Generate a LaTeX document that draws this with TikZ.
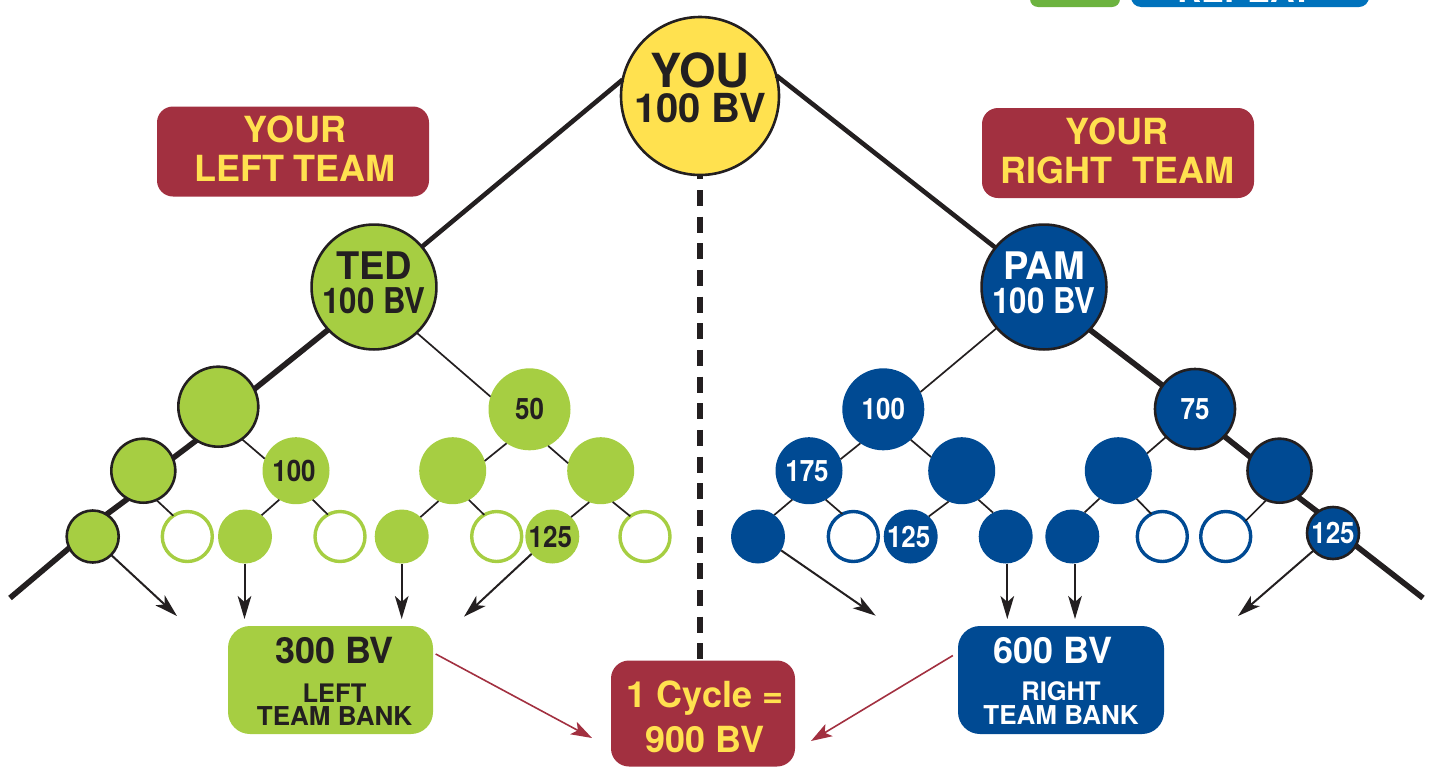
\documentclass[tikz,border=0pt]{standalone}
\usepackage{fontspec}
\setmainfont{TeX Gyre Heros}
\newfontfamily\hbfam{TeX Gyre Heros}
\newfontfamily\hbcfam[FakeStretch=0.88]{TeX Gyre Heros}
\newcommand{\hb}{\hbfam\bfseries}
\newcommand{\hbc}{\hbcfam\bfseries}
\usetikzlibrary{arrows.meta}
\definecolor{ygold}{HTML}{FFE14F}
\definecolor{lime}{HTML}{A6CE42}
\definecolor{navy}{HTML}{004A93}
\definecolor{wine}{HTML}{A23040}
\definecolor{ink}{HTML}{231F20}
\definecolor{topgreen}{HTML}{6CB33F}
\definecolor{topblue}{HTML}{0072BC}
% font size given in reference pixels (1px = 0.5pt)
\newcommand{\pxf}[1]{\fontsize{\dimexpr#1pt/2\relax}{\dimexpr#1pt*6/10\relax}\selectfont}
% rows with an exact baseline distance; #2 lifts the text inside its node
\newcommand{\rows}[3]{\vbox{\baselineskip=#1\lineskip=0pt\lineskiplimit=-100pt
  \halign{\hfil##\hfil\cr#3\crcr}\kern#2}}
\tikzset{
  ball/.style={circle,inner sep=0pt,outer sep=0pt,minimum size=#1*1pt},
  rimmed/.style={draw=ink,line width=1.3pt},
  limeball/.style={ball=#1,fill=lime,text=ink},
  navyball/.style={ball=#1,fill=navy,text=white},
  limering/.style={ball=#1,fill=white,draw=lime,line width=1.7pt},
  navyring/.style={ball=#1,fill=white,draw=navy,line width=1.7pt},
  numlabel/.style={font=\hbc\pxf{29.5}},
  banner/.style={rectangle,rounded corners=8pt,fill=wine,text=ygold,inner sep=0pt,outer sep=0pt},
  bank/.style={rectangle,rounded corners=11pt,inner sep=0pt,outer sep=0pt},
  spine/.style={draw=ink,line width=2.8pt},
  upspine/.style={draw=ink,line width=2.3pt},
  twig/.style={draw=ink,line width=0.85pt},
  drop/.style={draw=ink,line width=1pt,-{Stealth[length=11.5pt,width=6.8pt,inset=3pt]}},
  wineflow/.style={draw=wine,line width=0.8pt,-{Stealth[length=10.5pt,width=7pt,inset=2.5pt]}},
}
\begin{document}
\begin{tikzpicture}[x=0.5pt,y=-0.5pt]
\useasboundingbox (0,0) rectangle (1430,766);

% cropped buttons at the top edge
\begin{scope}
\clip (0,0) rectangle (1430,766);
\node[rectangle,rounded corners=4pt,fill=topgreen,minimum width=45pt,minimum height=20pt,inner sep=0,outer sep=0] (go) at (1075,-13) {};
\node[rectangle,rounded corners=5pt,fill=topblue,minimum width=119pt,minimum height=20pt,inner sep=0,outer sep=0,text=white] (repeatbtn) at (1250,-13) {};
\node[anchor=base,text=white,font=\hb\pxf{34},inner sep=0] (repeattxt) at (1245,2) {REPEAT};
\end{scope}

% top node and its children
\node[ball=79,fill=ygold,rimmed,text=ink] (you) at (700,96)
  {\rows{17.5pt}{8.5pt}{\hb\pxf{47}YOU\cr\hb\pxf{40}100 BV\cr}};
\node[limeball=62,rimmed] (ted) at (374,287)
  {\rows{17pt}{4.5pt}{\hb\pxf{38}TED\cr\hbc\pxf{35.5}100 BV\cr}};
\node[navyball=62,rimmed] (pam) at (1044,287)
  {\rows{17pt}{4.5pt}{\hb\pxf{38}PAM\cr\hbc\pxf{35.5}100 BV\cr}};

% left team
\node[limeball=40,rimmed] (la) at (218.3,406.7) {};
\node[limeball=41,numlabel] (lb) at (529.5,409.3) {50};
\node[limeball=32,rimmed] (lc) at (143.3,470.7) {};
\node[limeball=33.5,numlabel] (ld) at (296,470.7) {100\kern2pt};
\node[limeball=33.5] (le) at (452.7,470.7) {};
\node[limeball=33.5] (lf) at (600.7,470.7) {};
\node[limeball=26,rimmed] (lg) at (92.7,536.5) {};
\node[limering=25] (lh) at (187.3,536.5) {};
\node[limeball=27] (li) at (245,536.5) {};
\node[limering=25] (lj) at (340,536.5) {};
\node[limeball=27] (lk) at (401.7,536.5) {};
\node[limering=25] (ll) at (496.7,536.5) {};
\node[limeball=27,numlabel] (lm) at (552.3,536.5) {125\kern2pt};
\node[limering=25] (ln) at (645,536.5) {};

% right team
\node[navyball=41,numlabel] (ra) at (883.3,409.3) {100};
\node[navyball=40,rimmed,numlabel] (rb) at (1195,409) {75};
\node[navyball=33.5,numlabel] (rc) at (809,470.7) {175\kern2pt};
\node[navyball=33.5] (rd) at (961.7,470.7) {};
\node[navyball=33.5] (re) at (1118.3,470.7) {};
\node[navyball=32,rimmed] (rf) at (1279.5,470.7) {};
\node[navyball=27] (rg) at (758,536.5) {};
\node[navyring=25] (rh) at (853.3,536.5) {};
\node[navyball=27,numlabel] (ri) at (910.7,536.5) {125\kern2pt};
\node[navyball=27] (rj) at (1005.7,536.5) {};
\node[navyball=27] (rk) at (1072.3,536.5) {};
\node[navyring=25] (rl) at (1162.3,536.5) {};
\node[navyring=25] (rm) at (1225.7,536.5) {};
\node[navyball=26,rimmed,numlabel] (rn) at (1333,533) {125};

% banners
\node[banner,minimum width=136pt,minimum height=45pt] (leftteam) at (293,151.5)
  {\kern2pt\rows{19.5pt}{3pt}{\hb\pxf{36}YOUR\cr\hb\pxf{36}LEFT TEAM\cr}};
\node[banner,minimum width=136pt,minimum height=45pt] (rightteam) at (1118,153)
  {\rows{19.5pt}{1.8pt}{\hb\pxf{36}YOUR\kern1pt\cr\hb\pxf{36}RIGHT\ \ TEAM\kern1pt\cr}};
\node[bank,fill=lime,text=ink,minimum width=102.5pt,minimum height=54pt] (leftbank) at (330.5,680)
  {\kern4pt\rows{11.5pt}{-1.5pt}{\hb\pxf{36}300 BV\cr\noalign{\kern 8pt}\hb\pxf{25.5}LEFT\cr\hb\pxf{26}TEAM BANK\cr}};
\node[bank,fill=navy,text=white,minimum width=103pt,minimum height=54pt] (rightbank) at (1061,680)
  {\rows{12pt}{-1pt}{\hb\pxf{36}600 BV\kern 8pt\cr\noalign{\kern 6.5pt}\hb\pxf{25.5}RIGHT\cr\hb\pxf{26}TEAM BANK\cr}};
\node[banner,rounded corners=9pt,minimum width=92pt,minimum height=53pt] (cycle) at (703,713.5)
  {\kern2pt\rows{22.5pt}{-3pt}{\hb\pxf{36}1 Cycle =\cr\hb\pxf{36}900 BV\cr}};

% free ends
\coordinate (lfree) at (10,598);
\coordinate (rfree) at (1423,598);
\coordinate (lgtip) at (177,616);
\coordinate (litip) at (244.5,619);
\coordinate (lktip) at (401.7,619);
\coordinate (lmtip) at (464,616.7);
\coordinate (rgtip) at (875.7,615.7);
\coordinate (rjtip) at (1007.3,619);
\coordinate (rktip) at (1075,619);
\coordinate (rntip) at (1238,616);
\coordinate (redl) at (592,738);
\coordinate (redr) at (811,741);

% main spines
\draw[upspine] (you.168) -- (ted.40);
\draw[upspine] (you.15) -- (pam.141);
\draw[spine] (ted.223) -- (la.26);
\draw[spine] (la.237) -- (lc.23);
\draw[spine] (lc.241) -- (lg.58);
\draw[spine] (lg.206) -- (lfree);
\draw[spine] (pam.317) -- (rb.144);
\draw[spine] (rb.317) -- (rf.155);
\draw[spine] (rf.305) -- (rn.126);
\draw[spine] (rn.331) -- (rfree);

% thin branches
\foreach \p/\c in {ted.313/lb.162,la.306/ld.159,lc.294/lh.124,ld.240/li.52,ld.300/lj.119,
                   lb.236/le.17,lb.297/lf.167,le.245/lk.46,le.299/ll.120,lf.250/lm.46,lf.291/ln.126,
                   pam.221.5/ra.25,ra.236/rc.20,ra.312/rd.156,rc.240/rg.53,rc.300/rh.116,
                   rd.247/ri.48,rd.300/rj.118,rb.224/re.31,re.236/rk.63,re.303/rl.116,rf.246/rm.38}
  \draw[twig] (\p) -- (\c);

% dashed centre line
\draw[draw=ink,line width=3.2pt,dash pattern=on 8pt off 5.33pt,dash phase=5.83pt,xshift=-0.5pt]
  (you.south) -- (cycle.north -| you.south);

% arrows to the banks
\draw[drop] (lg.315) -- (lgtip);
\draw[drop] (li.south -| litip) -- (litip);
\draw[drop] (lk.south -| lktip) -- (lktip);
\draw[drop] (lm.220) -- (lmtip);
\draw[drop] (rg.329) -- (rgtip);
\draw[drop] (rj.south -| rjtip) -- (rjtip);
\draw[drop] (rk.south -| rktip) -- (rktip);
\draw[drop] (rn.222) -- (rntip);

% arrows to the cycle total
\draw[wineflow,shorten <=1.5pt] (leftbank.15) -- (redl);
\draw[wineflow,shorten <=3pt] (rightbank.165) -- (redr);
\end{tikzpicture}
\end{document}
